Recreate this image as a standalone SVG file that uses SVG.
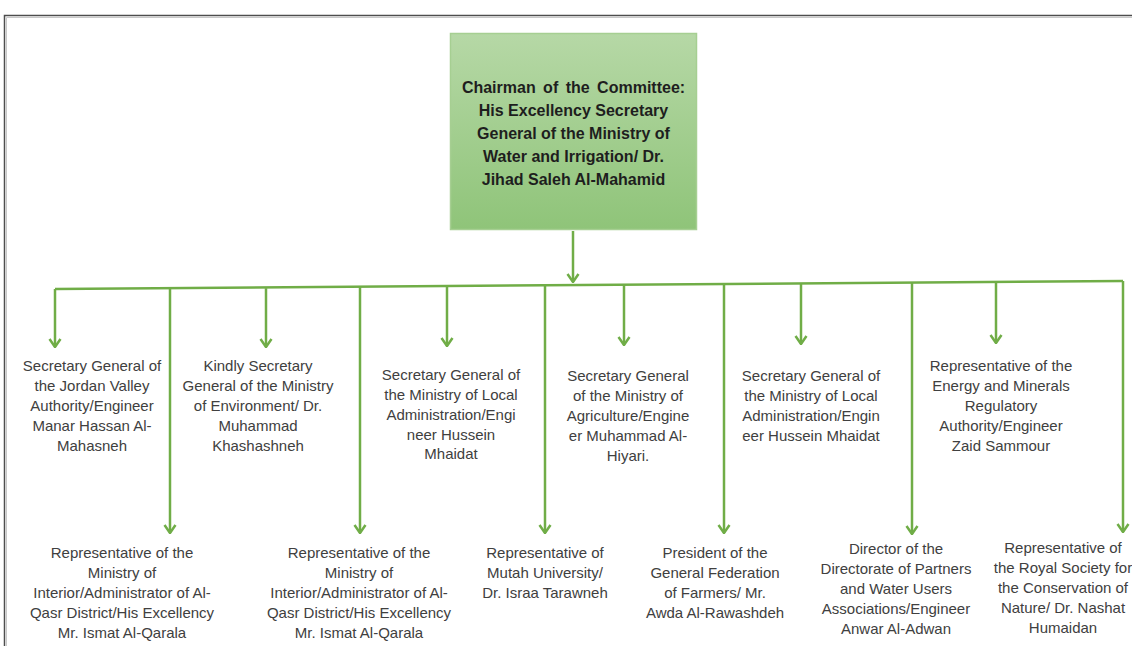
<svg xmlns="http://www.w3.org/2000/svg" width="1132" height="646" viewBox="0 0 1132 646">
<defs>
<linearGradient id="gBox" x1="0" y1="0" x2="0" y2="1">
<stop offset="0" stop-color="#b6d8a6"/>
<stop offset="1" stop-color="#8fc479"/>
</linearGradient>
<marker id="arr" viewBox="-1 -7 10 14" refX="8" refY="0" markerWidth="10" markerHeight="14" markerUnits="userSpaceOnUse" orient="auto">
<path d="M0,-5.5 L8,0 L0,5.5" fill="none" stroke="#70ad47" stroke-width="2.5" stroke-linejoin="miter"/>
</marker>
<style>
.t{font-family:"Liberation Sans","Open Sans",Arial,sans-serif;font-size:15px;fill:#404040;text-anchor:middle}
.h{font-family:"Liberation Sans","Open Sans",Arial,sans-serif;font-size:16px;font-weight:bold;fill:#1e1e1e;text-anchor:middle}
.c{fill:none;stroke:#70ad47;stroke-width:2.5}
.a{marker-end:url(#arr)}
</style>
</defs>
<rect width="1132" height="646" fill="#ffffff"/>
<g id="frame">
<path d="M4.5,646 V15.5 H1132" fill="none" stroke="#4d4d4d" stroke-width="1.5"/>
<path d="M6.5,646 V17.5 H1132" fill="none" stroke="#c8c8c8" stroke-width="1"/>
</g>
<g id="connectors">
<path class="c a" d="M573,231 V282"/>
<path class="c" d="M55,289 L1123,281"/>
<path class="c a" d="M55,289 V347"/>
<path class="c a" d="M266,288.2 V347"/>
<path class="c a" d="M447,286.1 V346"/>
<path class="c a" d="M624,284.7 V345"/>
<path class="c a" d="M801,283.4 V344"/>
<path class="c a" d="M996,282 V343"/>
<path class="c a" d="M170,288.1 V533"/>
<path class="c a" d="M360,286.7 V533"/>
<path class="c a" d="M545,285.3 V533"/>
<path class="c a" d="M724,284 V533"/>
<path class="c a" d="M912,282.6 V534"/>
<path class="c a" d="M1123,281 V532"/>
</g>
<g id="chairman">
<rect x="450.5" y="33.5" width="246" height="196" fill="url(#gBox)" stroke="#a6cf92" stroke-width="1.5"/>
<text class="h"><tspan x="573.5" y="93" word-spacing="3">Chairman of the Committee:</tspan><tspan x="573.5" y="116">His Excellency Secretary</tspan><tspan x="573.5" y="139">General of the Ministry of</tspan><tspan x="573.5" y="162">Water and Irrigation/ Dr.</tspan><tspan x="573.5" y="185">Jihad Saleh Al-Mahamid</tspan></text>
</g>
<g id="n1"><text class="t"><tspan x="92" y="371">Secretary General of</tspan><tspan x="92" dy="20">the Jordan Valley</tspan><tspan x="92" dy="20">Authority/Engineer</tspan><tspan x="92" dy="20">Manar Hassan Al-</tspan><tspan x="92" dy="20">Mahasneh</tspan></text></g>
<g id="n2"><text class="t"><tspan x="258" y="371">Kindly Secretary</tspan><tspan x="258" dy="20">General of the Ministry</tspan><tspan x="258" dy="20">of Environment/ Dr.</tspan><tspan x="258" dy="20">Muhammad</tspan><tspan x="258" dy="20">Khashashneh</tspan></text></g>
<g id="n3"><text class="t"><tspan x="451" y="380">Secretary General of</tspan><tspan x="451" dy="20">the Ministry of Local</tspan><tspan x="451" dy="20">Administration/Engi</tspan><tspan x="451" dy="20">neer Hussein</tspan><tspan x="451" dy="19">Mhaidat</tspan></text></g>
<g id="n4"><text class="t"><tspan x="628" y="381">Secretary General</tspan><tspan x="628" dy="20">of the Ministry of</tspan><tspan x="628" dy="20">Agriculture/Engine</tspan><tspan x="628" dy="20">er Muhammad Al-</tspan><tspan x="628" dy="20">Hiyari.</tspan></text></g>
<g id="n5"><text class="t"><tspan x="811" y="381">Secretary General of</tspan><tspan x="811" dy="20">the Ministry of Local</tspan><tspan x="811" dy="20">Administration/Engin</tspan><tspan x="811" dy="20">eer Hussein Mhaidat</tspan></text></g>
<g id="n6"><text class="t"><tspan x="1001" y="371">Representative of the</tspan><tspan x="1001" dy="20">Energy and Minerals</tspan><tspan x="1001" dy="20">Regulatory</tspan><tspan x="1001" dy="20">Authority/Engineer</tspan><tspan x="1001" dy="20">Zaid Sammour</tspan></text></g>
<g id="n7"><text class="t"><tspan x="122" y="558">Representative of the</tspan><tspan x="122" dy="20">Ministry of</tspan><tspan x="122" dy="20">Interior/Administrator of Al-</tspan><tspan x="122" dy="20">Qasr District/His Excellency</tspan><tspan x="122" dy="20">Mr. Ismat Al-Qarala</tspan></text></g>
<g id="n8"><text class="t"><tspan x="359" y="558">Representative of the</tspan><tspan x="359" dy="20">Ministry of</tspan><tspan x="359" dy="20">Interior/Administrator of Al-</tspan><tspan x="359" dy="20">Qasr District/His Excellency</tspan><tspan x="359" dy="20">Mr. Ismat Al-Qarala</tspan></text></g>
<g id="n9"><text class="t"><tspan x="545" y="558">Representative of</tspan><tspan x="545" dy="20">Mutah University/</tspan><tspan x="545" dy="20">Dr. Israa Tarawneh</tspan></text></g>
<g id="n10"><text class="t"><tspan x="715" y="558">President of the</tspan><tspan x="715" dy="20">General Federation</tspan><tspan x="715" dy="20">of Farmers/ Mr.</tspan><tspan x="715" dy="20">Awda Al-Rawashdeh</tspan></text></g>
<g id="n11"><text class="t"><tspan x="896" y="554">Director of the</tspan><tspan x="896" dy="20">Directorate of Partners</tspan><tspan x="896" dy="20">and Water Users</tspan><tspan x="896" dy="20">Associations/Engineer</tspan><tspan x="896" dy="20">Anwar Al-Adwan</tspan></text></g>
<g id="n12"><text class="t"><tspan x="1063" y="553">Representative of</tspan><tspan x="1063" dy="20">the Royal Society for</tspan><tspan x="1063" dy="20">the Conservation of</tspan><tspan x="1063" dy="20">Nature/ Dr. Nashat</tspan><tspan x="1063" dy="20">Humaidan</tspan></text></g>
</svg>
